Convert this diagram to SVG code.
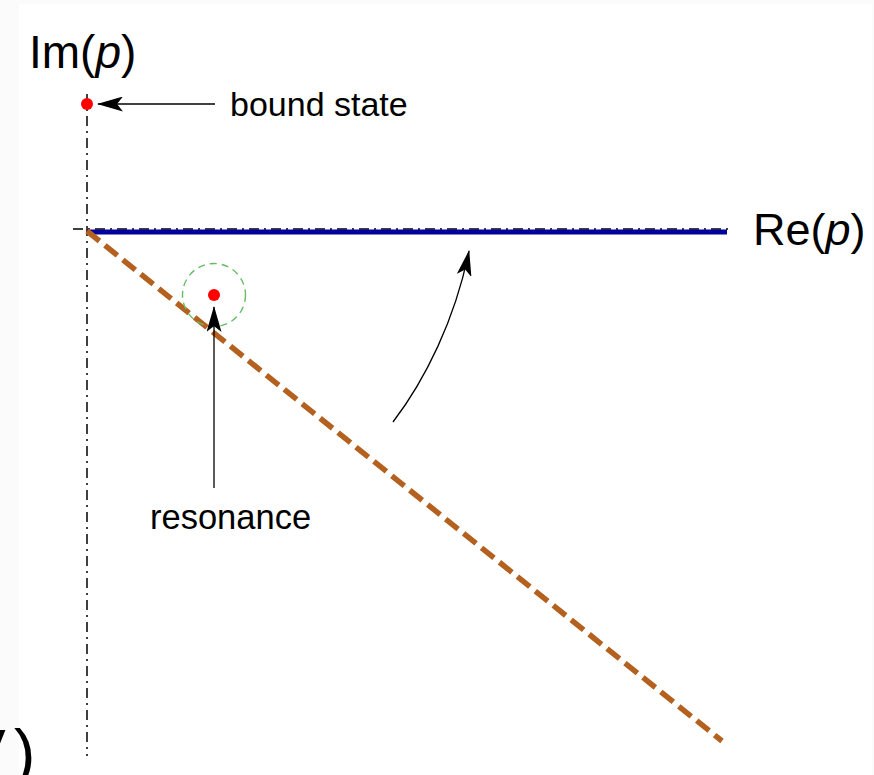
<svg xmlns="http://www.w3.org/2000/svg" width="874" height="775" viewBox="0 0 874 775">
<style>
.lbl{font-family:"Liberation Sans",Arial,sans-serif;fill:#000}
.axis{stroke:#000;stroke-width:1.5;fill:none;stroke-dasharray:10 5 2 5}
.arrow{stroke:#000;stroke-width:1.3;fill:none;marker-end:url(#ah)}
.dot{fill:#ff0000}
</style>
<defs>
<marker id="ah" markerUnits="userSpaceOnUse" viewBox="0 0 26 15" refX="25" refY="7.5" markerWidth="26" markerHeight="15" orient="auto">
<path d="M0,0 L26,7.5 L0,15 L6,7.5 z" fill="#000"/>
</marker>
</defs>
<rect x="0" y="0" width="874" height="775" fill="#fbfbfb"/>
<rect x="19" y="4" width="853" height="771" fill="#ffffff"/>
<g id="axes">
<line class="axis" x1="87" y1="94" x2="87" y2="756"/>
<line class="axis" x1="73" y1="229" x2="733" y2="229"/>
</g>
<g id="real-axis">
<line x1="87" y1="232" x2="727" y2="232" stroke="#00009c" stroke-width="5"/>
</g>
<g id="rotated-contour">
<line x1="87" y1="231" x2="722" y2="741" stroke="#b4601e" stroke-width="5.5" stroke-dasharray="16 7"/>
</g>
<g id="resonance-circle">
<circle cx="214" cy="295" r="31.5" fill="none" stroke="#66bb66" stroke-width="1.4" stroke-dasharray="7 5"/>
</g>
<g id="bound-state">
<circle class="dot" cx="87" cy="104" r="6"/>
</g>
<g id="resonance">
<circle class="dot" cx="214" cy="295" r="6"/>
</g>
<g id="connectors">
<line class="arrow" x1="215" y1="104" x2="98" y2="104"/>
<line class="arrow" x1="214" y1="488" x2="214" y2="307"/>
<path class="arrow" d="M393,422 C425,380 455,320 469,251"/>
</g>
<g id="labels">
<text class="lbl" x="29" y="68" font-size="46">Im(<tspan font-style="italic">p</tspan>)</text>
<text class="lbl" x="753" y="245" font-size="45">Re(<tspan font-style="italic">p</tspan>)</text>
<text class="lbl" x="230" y="116" font-size="34">bound state</text>
<text class="lbl" x="150" y="529" font-size="34.5">resonance</text>
<text class="lbl" x="-37" y="775" font-size="64">V<tspan x="14">)</tspan></text>
</g>
</svg>
